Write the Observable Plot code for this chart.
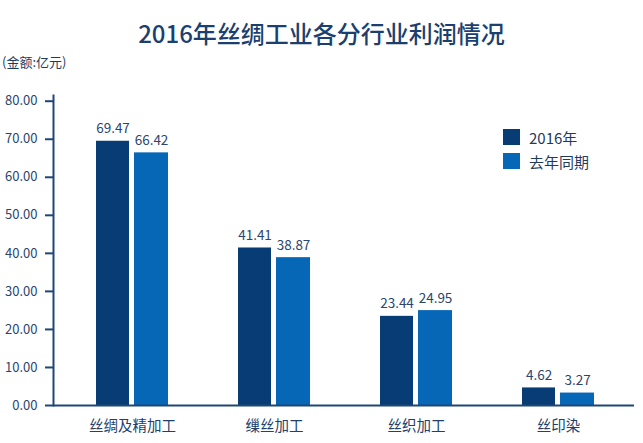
<!DOCTYPE html>
<html>
<head>
<meta charset="utf-8">
<script src="https://cdn.jsdelivr.net/npm/d3@7"></script>
<script src="https://cdn.jsdelivr.net/npm/@observablehq/plot@0.6"></script>
<style>
  html, body { margin: 0; padding: 0; background: #fff; }
  body { width: 643px; height: 443px; overflow: hidden; font-family: "Noto Sans CJK SC", "Noto Sans", sans-serif; }
  #head { position: relative; height: 80px; }
  #title { position: absolute; left: 0; top: 18px; width: 643px; text-align: center; font-size: 24px; font-weight: 500; line-height: 30px; color: #1b3f6e; }
  #sub { position: absolute; left: 2px; top: 53px; font-size: 13px; line-height: 18px; color: #1f3a5f; }
  #chart { position: relative; height: 363px; }
  #legend { position: absolute; left: 503px; top: 45px; font-size: 15px; color: #1f3a5f; }
  .item { display: flex; align-items: center; height: 24px; }
  .sw { width: 17px; height: 16px; margin-right: 9px; }
</style>
</head>
<body>
<div id="head">
  <div id="title">2016年丝绸工业各分行业利润情况</div>
  <div id="sub">(金额:亿元)</div>
</div>
<div id="chart"><div id="legend"></div></div>
<script>
const categories = ["丝绸及精加工", "缫丝加工", "丝织加工", "丝印染"];
const seriesNames = ["2016年", "去年同期"];
const values2016 = [69.47, 41.41, 23.44, 4.62];
const valuesLastYear = [66.42, 38.87, 24.95, 3.27];
const yTicks = [0, 10, 20, 30, 40, 50, 60, 70, 80];
const colors = ["#073c75", "#0767b7"];

const axisColor = "#1e4676";
const textColor = "#2a4670";

const d2016 = categories.map((c, i) => ({cat: c, series: seriesNames[0], value: values2016[i]}));
const dLast = categories.map((c, i) => ({cat: c, series: seriesNames[1], value: valuesLastYear[i]}));

const chart = Plot.plot({
  width: 643,
  height: 363,
  marginLeft: 53,
  marginRight: 9,
  marginTop: 15,
  marginBottom: 38,
  style: {fontFamily: "'Noto Sans CJK SC', 'Noto Sans', sans-serif", background: "#fff"},
  x: {domain: categories, range: [61, 629], padding: 0, label: null},
  y: {domain: [0, 81.5], label: null},
  marks: [
    Plot.barY(d2016, {x: "cat", y: "value", fill: colors[0], insetLeft: 35, insetRight: 74}),
    Plot.barY(dLast, {x: "cat", y: "value", fill: colors[1], insetLeft: 73, insetRight: 35}),
    Plot.text(d2016, {x: "cat", y: "value", text: d => d.value.toFixed(2), dx: -19.5, dy: -8, lineAnchor: "bottom", fill: textColor, fontSize: 13.5}),
    Plot.text(dLast, {x: "cat", y: "value", text: d => d.value.toFixed(2), dx: 19, dy: -8, lineAnchor: "bottom", fill: textColor, fontSize: 13.5}),
    Plot.axisY({ticks: yTicks, tickFormat: d => d.toFixed(2), tickSize: 8, tickPadding: 8, fontSize: 13, stroke: axisColor, strokeWidth: 2, fill: textColor}),
    Plot.axisX({tickSize: 0, tickPadding: 15, fontSize: 14.5, fill: "#22406a"}),
    Plot.frame({anchor: "left", stroke: axisColor, strokeWidth: 2}),
    Plot.ruleY([0], {stroke: axisColor, strokeWidth: 2})
  ]
});
document.getElementById("chart").prepend(chart);

const legend = document.getElementById("legend");
seriesNames.forEach((name, i) => {
  const item = document.createElement("div");
  item.className = "item";
  const sw = document.createElement("div");
  sw.className = "sw";
  sw.style.background = colors[i];
  const label = document.createElement("span");
  label.textContent = name;
  item.append(sw, label);
  legend.append(item);
});
</script>
</body>
</html>
